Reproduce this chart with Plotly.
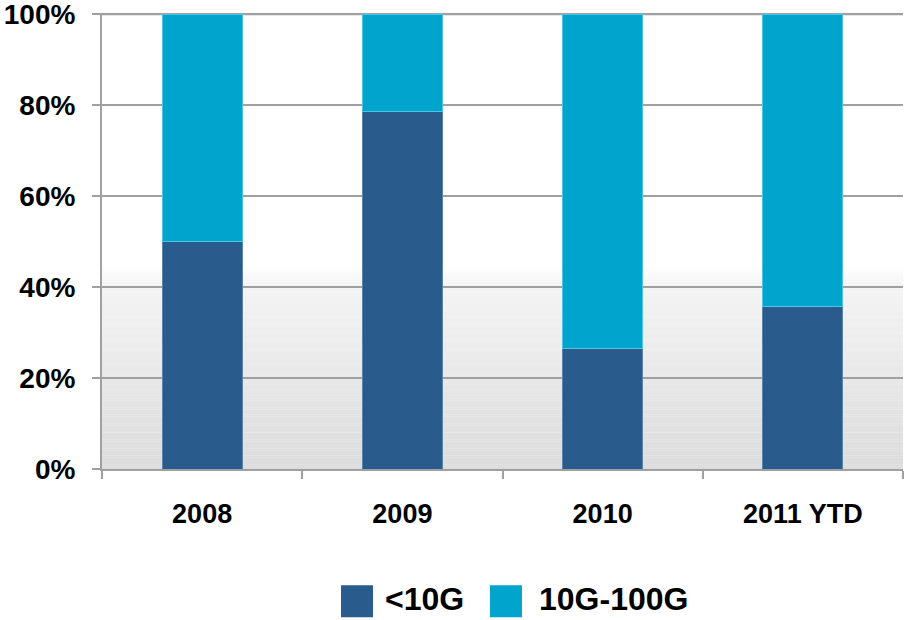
import plotly.graph_objects as go

# Share of volume by bandwidth tier, per year (percent of total)
years = ["2008", "2009", "2010", "2011 YTD"]
below_10g = [50.1, 78.7, 26.4, 35.8]
tier_10g_100g = [100 - v for v in below_10g]
series_names = ["<10G", "10G-100G"]
y_ticks = [0, 20, 40, 60, 80, 100]
y_tick_labels = [f"{t}%" for t in y_ticks]

DARK = "#295B8D"
CYAN = "#00A4CC"
GRID = "#a0a0a0"
FONT = "Liberation Sans, Arial, sans-serif"

fig = go.Figure()
fig.add_bar(x=years, y=below_10g, name=series_names[0], marker_color=DARK,
            marker_line=dict(color="#5b84ad", width=1), showlegend=False)
fig.add_bar(x=years, y=tier_10g_100g, name=series_names[1], marker_color=CYAN,
            marker_line=dict(color="#4cc6e4", width=1), showlegend=False)

# Soft grey floor gradient behind the lower part of the plot area
shapes = []
n = 90
top = 45.0
for i in range(n):
    y0 = top * i / n
    y1 = top * (i + 1) / n + 0.05
    f = i / (n - 1)           # 0 at bottom, 1 at top
    if f < 0.9:
        g = 220 + (244 - 220) * (f / 0.9)
    else:
        g = 244 + (255 - 244) * ((f - 0.9) / 0.1)
    g = int(round(g))
    shapes.append(dict(type="rect", xref="paper", yref="y", x0=0, x1=1,
                       y0=y0, y1=min(y1, top), line_width=0, layer="below",
                       fillcolor=f"rgb({g},{g},{g})"))

# Top grid line at the upper edge of the value range
shapes.append(dict(type="line", xref="paper", yref="y", x0=0, x1=1,
                   y0=y_ticks[-1], y1=y_ticks[-1], layer="below",
                   line=dict(color=GRID, width=2)))

# Legend swatches
legend_items = [
    (series_names[0], DARK, 0.2984, 0.3520),
    (series_names[1], CYAN, 0.4844, 0.5443),
]
annotations = []
for label, color, sx, tx in legend_items:
    shapes.append(dict(type="rect", xref="paper", yref="paper",
                       x0=sx, x1=sx + 0.0399, y0=-0.3253, y1=-0.2549,
                       fillcolor=color, line_width=0))
    annotations.append(dict(text=label, xref="paper", yref="paper", x=tx,
                            y=-0.3275, xanchor="left", yanchor="bottom",
                            showarrow=False, borderpad=0,
                            font=dict(family=FONT, size=32, color="black",
                                      weight="bold")))

fig.update_layout(
    barmode="stack",
    bargap=0.6,
    width=907, height=620,
    margin=dict(l=102, r=4, t=13, b=151, autoexpand=False),
    plot_bgcolor="white", paper_bgcolor="white",
    shapes=shapes,
    annotations=annotations,
    font=dict(family=FONT, color="black"),
)
fig.update_xaxes(
    showline=True, linecolor=GRID, linewidth=2, automargin=False,
    ticks="outside", tickson="boundaries", ticklen=8, tickcolor=GRID,
    tickwidth=2, showgrid=False,
    tickfont=dict(family=FONT, size=27, color="black", weight="bold"),
    ticklabelstandoff=20,
)
fig.update_yaxes(
    range=[0, 100.25], tickvals=y_ticks, ticktext=y_tick_labels,
    showline=True, linecolor=GRID, linewidth=2, automargin=False,
    ticks="outside", ticklen=8, tickcolor=GRID, tickwidth=2,
    showgrid=True, gridcolor=GRID, gridwidth=2, zeroline=False,
    tickfont=dict(family=FONT, size=28, color="black", weight="bold"),
    ticklabelstandoff=11, ticklabeloverflow="allow",
)

fig.write_html("out.html")
